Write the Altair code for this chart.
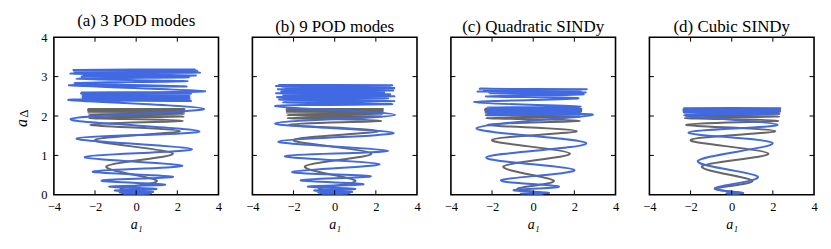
import altair as alt
import pandas as pd

TITLES = ["(a) 3 POD modes", "(b) 9 POD modes", "(c) Quadratic SINDy", "(d) Cubic SINDy"]
X_LABELS = [-4, -2, 0, 2, 4]
Y_LABELS = [0, 1, 2, 3, 4]
X_INNER = [-2, 0, 2]
Y_INNER = [1, 2, 3]

# reference trajectory (gray): turning points
GRAY_X = [0.0, 0.4, -0.75, 1.0, -1.45, 1.78, -2.0, 2.12, -2.22, 2.26, -2.28, 2.3, -2.3,
          2.32, -2.32, 2.33, -2.33, 2.34, -2.34, 2.34, -2.35, 2.35]
GRAY_Y = [0.0, 0.05, 0.16, 0.36, 0.72, 1.05, 1.39, 1.62, 1.78, 1.88, 1.95, 1.99, 2.03,
          2.06, 2.09, 2.11, 2.13, 2.15, 2.16, 2.17, 2.18, 2.18]

# model trajectories (blue): turning points
A_X = [0.25, -0.3, 0.4, -0.45, 0.55, -0.6, 0.65, -0.7, 0.72, -0.8, 0.82, -1.04, 0.99, -1.31,
       1.41, -1.68, 1.79, -2.11, 2.24, -2.5, 2.71, -2.9, 3.07, -3.19, 3.3, -3.3,
       2.66, -2.68, 2.66, -2.68, 2.66, -2.68, 2.66, -2.68, 2.66, -2.68, 2.66, -2.66,
       3.35, -3.27, 2.45, -3.0, 2.5, -2.9, 2.55, -2.65, 2.9, -3.2, 3.1, -3.0, 2.95, -3.05,
       2.85, -2.8, 3.0, -2.6]
A_Y = [0.0, 0.004, 0.008, 0.012, 0.018, 0.024, 0.03, 0.038, 0.048, 0.06, 0.075, 0.11, 0.15, 0.21,
       0.26, 0.36, 0.46, 0.59, 0.74, 0.96, 1.16, 1.43, 1.61, 1.92, 2.18, 2.41,
       2.38, 2.4, 2.42, 2.44, 2.46, 2.48, 2.5, 2.52, 2.54, 2.56, 2.58, 2.6,
       2.63, 2.78, 2.75, 2.84, 2.88, 2.95, 2.98, 3.0, 3.03, 3.08, 3.1, 3.12, 3.15, 3.17,
       3.18, 3.14, 3.12, 3.05]

B_X = [0.25, -0.3, 0.4, -0.45, 0.55, -0.6, 0.65, -0.7, 0.72, -0.8, 0.85, -1.0, 1.0, -1.3,
       1.4, -1.65, 1.75, -2.07, 2.18, -2.42, 2.58, -2.74, 2.87, -2.9, 2.94, -2.9,
       2.8, -2.5, 2.9, -2.7, 2.6, -2.8, 2.9, -2.5, 2.7, -2.85, 2.4, -2.6, 2.85, -2.75,
       2.55, -2.4, 2.7, -2.85, 2.8, -2.7, 2.6, -2.55, 2.9, -2.8]
B_Y = [0.0, 0.004, 0.008, 0.012, 0.018, 0.024, 0.03, 0.038, 0.048, 0.06, 0.075, 0.11, 0.15, 0.21,
       0.27, 0.37, 0.47, 0.58, 0.78, 0.98, 1.12, 1.35, 1.57, 1.81, 2.03, 2.25,
       2.3, 2.35, 2.38, 2.42, 2.45, 2.48, 2.5, 2.53, 2.55, 2.58, 2.6, 2.62, 2.65, 2.68,
       2.7, 2.72, 2.74, 2.76, 2.78, 2.79, 2.77, 2.74, 2.71, 2.68]

C_X = [0.1, -0.3, 0.45, -0.6, 0.77, -0.95, 1.25, -1.56, 2.0, -2.28, 2.58, -2.76, 2.9,
       -2.28, 2.3, -2.28, 2.3, -2.28, 2.3, -2.28, 2.3, -2.28, 2.3, -2.28, 2.3,
       -2.87, 2.2, -2.3, 2.45, -2.1, 2.55, -2.7, 2.3, -2.4, 2.6, -2.6, 2.4, -2.2]
C_Y = [0.0, 0.01, 0.02, 0.03, 0.05, 0.12, 0.21, 0.37, 0.63, 0.95, 1.31, 1.69, 2.03,
       2.02, 2.04, 2.06, 2.08, 2.1, 2.12, 2.14, 2.16, 2.18, 2.2, 2.22, 2.24,
       2.35, 2.45, 2.5, 2.55, 2.58, 2.6, 2.62, 2.64, 2.66, 2.68, 2.69, 2.67, 2.6]

D_X = [0.1, -0.25, 0.55, -0.82, 1.27, -1.65, 1.99, -2.1, 2.23, -2.3, 2.3, -2.33, 2.35,
       -2.35, 2.36, -2.35, 2.36, -2.35, 2.36, -2.35, 2.36, -2.35, 2.36]
D_Y = [0.02, 0.04, 0.05, 0.17, 0.46, 0.86, 1.31, 1.58, 1.78, 2.02, 2.06, 2.1, 2.12,
       2.13, 2.14, 2.15, 2.16, 2.17, 2.18, 2.19, 2.2, 2.2, 2.19]

MODELS = [(A_X, A_Y), (B_X, B_Y), (C_X, C_Y), (D_X, D_Y)]

W, H = 165, 158
SERIF = "Liberation Serif, serif"
BLUE = "#4169E1"
GRAY = "#666666"
TICK = 4.5

xs = alt.Scale(domain=[-4, 4], nice=False, zero=False)
ys = alt.Scale(domain=[0, 4], nice=False, zero=False)


def make_panel(i, bx, by):
    xaxis = alt.Axis(values=X_LABELS, ticks=False, domain=False, grid=False, labelFlush=False,
                     labelPadding=6, labelFont=SERIF, labelFontSize=12.5, labelColor="black",
                     title="a₁", titleFont=SERIF, titleFontStyle="italic", titleFontWeight="normal",
                     titleFontSize=14, titleColor="black", titlePadding=4)
    if i == 0:
        yaxis = alt.Axis(values=Y_LABELS, ticks=False, domain=False, grid=False, labelFlush=False,
                         labelPadding=7, labelFont=SERIF, labelFontSize=12.5, labelColor="black",
                         title=None)
    else:
        yaxis = None
    X = alt.X("x:Q", scale=xs, axis=xaxis)
    Y = alt.Y("y:Q", scale=ys, axis=yaxis)

    gray = pd.DataFrame({"x": GRAY_X, "y": GRAY_Y, "k": list(range(len(GRAY_X)))})
    blue = pd.DataFrame({"x": bx, "y": by, "k": list(range(len(bx)))})

    g = alt.Chart(gray).mark_line(color=GRAY, strokeWidth=2, interpolate="cardinal",
                                  clip=True).encode(x=X, y=Y, order="k:Q")
    b = alt.Chart(blue).mark_line(color=BLUE, strokeWidth=2, interpolate="cardinal",
                                  clip=True).encode(x=X, y=Y, order="k:Q")

    xt = pd.DataFrame({"x": X_INNER})
    yt = pd.DataFrame({"y": Y_INNER})
    t1 = alt.Chart(xt).mark_rule(color="black", strokeWidth=1).encode(
        x=X, y=alt.value(0), y2=alt.value(TICK))
    t2 = alt.Chart(xt).mark_rule(color="black", strokeWidth=1).encode(
        x=X, y=alt.value(H), y2=alt.value(H - TICK))
    t3 = alt.Chart(yt).mark_rule(color="black", strokeWidth=1).encode(
        y=Y, x=alt.value(0), x2=alt.value(TICK))
    t4 = alt.Chart(yt).mark_rule(color="black", strokeWidth=1).encode(
        y=Y, x=alt.value(W), x2=alt.value(W - TICK))

    layers = [g, b, t1, t2, t3, t4]
    if i == 0:
        ya = alt.Chart(pd.DataFrame({"t": ["a"]})).mark_text(
            font=SERIF, fontStyle="italic", fontSize=16, angle=270, color="black",
            align="center", baseline="middle").encode(
            text="t:N", x=alt.value(-32), y=alt.value(86))
        yd = alt.Chart(pd.DataFrame({"t": ["Δ"]})).mark_text(
            font=SERIF, fontSize=13, angle=270, color="black",
            align="center", baseline="middle").encode(
            text="t:N", x=alt.value(-29.5), y=alt.value(76.5))
        layers += [ya, yd]

    return alt.layer(*layers).properties(
        width=W, height=H,
        title=alt.TitleParams(TITLES[i], font=SERIF, fontSize=17, fontWeight="normal",
                              color="black", offset=1))


panels = [make_panel(i, bx, by) for i, (bx, by) in enumerate(MODELS)]

chart = alt.hconcat(*panels, spacing=34, bounds="flush").properties(
    padding={"left": 5, "top": 3, "right": 5, "bottom": 5}
).configure_view(stroke="black", strokeWidth=1.6)

chart.save("out.html", embed_options={"renderer": "svg", "actions": False})
